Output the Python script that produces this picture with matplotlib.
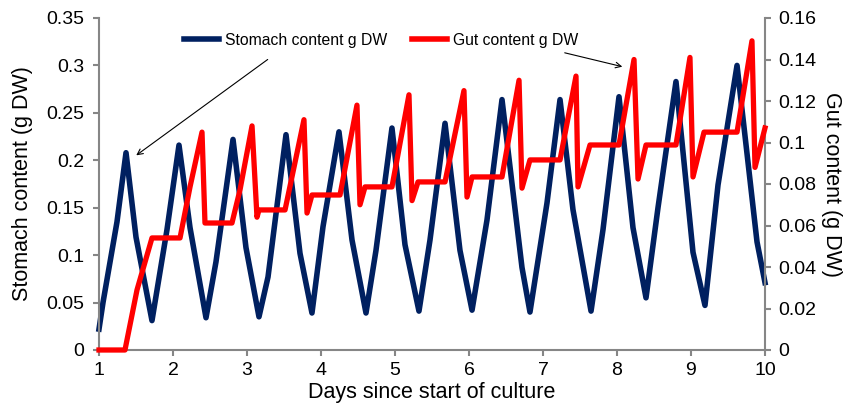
import matplotlib.pyplot as plt
from matplotlib.lines import Line2D

plt.rcParams['font.family'] = ['Liberation Sans', 'DejaVu Sans']

# stomach content (left axis)
stomach_days = [1.000, 1.054, 1.243, 1.365, 1.500, 1.716, 1.919, 2.081, 2.230, 2.446,
                2.581, 2.811, 2.986, 3.162, 3.284, 3.527, 3.716, 3.878, 4.027, 4.243,
                4.419, 4.608, 4.743, 4.959, 5.135, 5.324, 5.473, 5.676, 5.878, 6.041,
                6.243, 6.446, 6.716, 6.824, 7.054, 7.230, 7.405, 7.649, 7.811, 8.027,
                8.216, 8.392, 8.554, 8.797, 9.027, 9.189, 9.365, 9.622, 9.892, 10.000]
stomach_vals = [0.022, 0.050, 0.135, 0.208, 0.119, 0.031, 0.127, 0.216, 0.129, 0.034,
                0.093, 0.222, 0.108, 0.035, 0.077, 0.227, 0.102, 0.039, 0.130, 0.230,
                0.116, 0.039, 0.105, 0.234, 0.111, 0.041, 0.116, 0.239, 0.105, 0.042,
                0.137, 0.264, 0.087, 0.040, 0.155, 0.264, 0.148, 0.041, 0.127, 0.267,
                0.129, 0.055, 0.150, 0.283, 0.103, 0.047, 0.174, 0.300, 0.114, 0.071]

# gut content (right axis)
gut_days = [1.000, 1.351, 1.514, 1.716, 2.095, 2.230, 2.392, 2.432, 2.797, 2.905,
            3.068, 3.135, 3.162, 3.514, 3.770, 3.811, 3.878, 4.257, 4.486, 4.527,
            4.595, 4.959, 5.189, 5.230, 5.311, 5.676, 5.932, 5.973, 6.041, 6.446,
            6.676, 6.716, 6.824, 7.230, 7.446, 7.473, 7.635, 8.027, 8.230, 8.284,
            8.392, 8.797, 8.986, 9.027, 9.176, 9.622, 9.824, 9.865, 10.000]
gut_vals = [0.0, 0.0, 0.029, 0.054, 0.054, 0.0786, 0.105, 0.0612, 0.0612, 0.0771,
            0.108, 0.064, 0.0675, 0.0675, 0.111, 0.066, 0.0747, 0.0747, 0.118, 0.070,
            0.0786, 0.0786, 0.123, 0.072, 0.081, 0.081, 0.125, 0.0737, 0.0834, 0.0834,
            0.130, 0.078, 0.0916, 0.0916, 0.132, 0.0786, 0.0988, 0.0988, 0.140, 0.0824,
            0.0988, 0.0988, 0.141, 0.0834, 0.105, 0.105, 0.149, 0.088, 0.107]

left_ticks = [0, 0.05, 0.1, 0.15, 0.2, 0.25, 0.3, 0.35]
left_labels = ['0', '0.05', '0.1', '0.15', '0.2', '0.25', '0.3', '0.35']
right_ticks = [0, 0.02, 0.04, 0.06, 0.08, 0.1, 0.12, 0.14, 0.16]
right_labels = ['0', '0.02', '0.04', '0.06', '0.08', '0.1', '0.12', '0.14', '0.16']
day_ticks = list(range(1, 11))

navy = '#002060'
red = '#ff0000'
grey = '#868686'

fig = plt.figure(figsize=(8.45, 4.05), dpi=100)
ax = fig.add_axes([99/845, 55/405, 666/845, 332/405])
ax2 = ax.twinx()

ax.plot(stomach_days, stomach_vals, color=navy, lw=4, clip_on=False, zorder=2)
ax2.plot(gut_days, gut_vals, color=red, lw=3.8, clip_on=False, zorder=3)

ax.set_xlim(1, 10)
ax.set_ylim(0, 0.35)
ax2.set_ylim(0, 0.16)
ax.set_xticks(day_ticks)
ax.set_yticks(left_ticks)
ax.set_yticklabels(left_labels)
ax2.set_yticks(right_ticks)
ax2.set_yticklabels(right_labels)

for a in (ax, ax2):
    a.spines['top'].set_visible(False)
    for s in ('left', 'right', 'bottom'):
        a.spines[s].set_color(grey)
        a.spines[s].set_linewidth(1.5)
    a.tick_params(colors=grey, labelcolor='black', labelsize=14, length=4.5, width=1.5, pad=5)
ax.spines['right'].set_visible(False)
ax2.spines['left'].set_visible(False)
ax2.spines['bottom'].set_visible(False)
ax.tick_params(axis='y', pad=6)
ax.tick_params(axis='x', pad=4)

ax.set_xlabel('Days since start of culture', fontsize=15.5)
ax.set_ylabel('Stomach content (g DW)', fontsize=15.5)
ax2.set_ylabel('Gut content (g DW)', fontsize=15.5, rotation=270)
ax.xaxis.set_label_coords(0.5, -0.097)
ax.yaxis.set_label_coords(-0.099, 0.5)
ax2.yaxis.set_label_coords(1.116, 0.5)

# legend strip at the top
handles = [Line2D([], [], color=navy, lw=4), Line2D([], [], color=red, lw=4)]
fig.legend(handles, ['Stomach content g DW', 'Gut content g DW'], ncol=2,
           loc='center left', bbox_to_anchor=(184/845, 365/405), frameon=False,
           fontsize=11.3, handlelength=2.2, handletextpad=0.4, columnspacing=1.6,
           borderpad=0, borderaxespad=0)

# arrows pointing at the series
ax.annotate('', xy=(1.473, 0.2035), xytext=(3.31, 0.308),
            arrowprops=dict(arrowstyle='->', color='black', lw=0.8))
ax.annotate('', xy=(8.108, 0.298), xytext=(7.257, 0.314),
            arrowprops=dict(arrowstyle='->', color='black', lw=0.8))

fig.savefig('out.png', dpi=100)
